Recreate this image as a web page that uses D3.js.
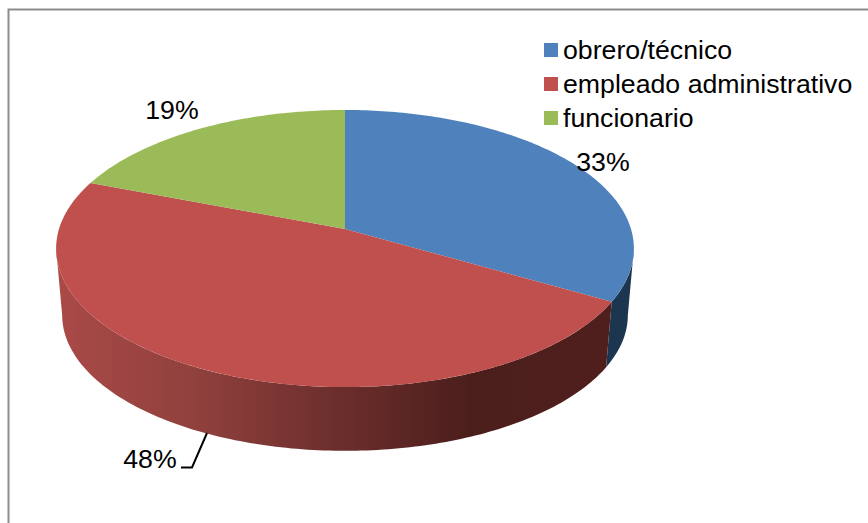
<!DOCTYPE html>
<html>
<head>
<meta charset="utf-8">
<script src="https://cdn.jsdelivr.net/npm/d3@7"></script>
<style>
  html, body { margin: 0; padding: 0; background: #fff; }
  svg { display: block; }
  text { font-family: "Liberation Sans", Arial, sans-serif; fill: #000; }
</style>
</head>
<body>
<div id="chart"></div>
<script>
var categories = ["obrero/técnico", "empleado administrativo", "funcionario"];
// estimated from slice boundaries, the labels show them rounded
var percents = [33.3, 47.5, 19.2];
var sliceColors = ["#4f81bd", "#c0504d", "#9bbb59"];
var width = 868, height = 523;

var svg = d3.select("#chart").append("svg")
    .attr("width", width)
    .attr("height", height);

///////// frame, only top and left are visible in the picture

svg.append("path")
    .attr("d", "M8.5," + height + "V9.5H" + width)
    .attr("fill", "none")
    .attr("stroke", "#8c8c8c")
    .attr("stroke-width", 2);

///////// perspective disc, angle in radians clockwise from the top

var tilt = 0.141;
var topDisc = {cx: 345, cy: 229, rx: 286, ry: 135.8};
var bottomDisc = {cx: 345, cy: 296, rx: 280, ry: 133};

function project(disc, a) {
    var w = 1 + tilt * Math.cos(a);
    return [disc.cx + disc.rx * Math.sin(a) / w, disc.cy - disc.ry * Math.cos(a) / w];
}

function arcPoints(disc, a0, a1) {
    var n = Math.ceil(Math.abs(a1 - a0) * 60);
    return d3.range(n + 1).map(function(i) {
        return project(disc, a0 + (a1 - a0) * i / n);
    });
}

var line = d3.line();
var pie = d3.pie().sort(null)(percents);
var color = d3.scaleOrdinal().domain(categories).range(sliceColors);

// side of the disc is only visible between the two tangent angles
var tangent = Math.acos(-tilt);
var wallFrom = tangent, wallTo = 2 * Math.PI - tangent;

var defs = svg.append("defs");
var redSide = defs.append("linearGradient")
    .attr("id", "redSide")
    .attr("gradientUnits", "userSpaceOnUse")
    .attr("x1", 56).attr("x2", 610).attr("y1", 0).attr("y2", 0);
redSide.selectAll("stop")
    .data([[0, "#aa4a47"], [0.26, "#8f403d"], [0.45, "#743230"], [0.75, "#4b1e1c"], [1, "#4f1f1d"]])
    .enter().append("stop")
    .attr("offset", function(d) { return d[0]; })
    .attr("stop-color", function(d) { return d[1]; });

var sideFill = ["#1d3650", "url(#redSide)", "#5f7a35"];

///////// walls

svg.append("g").selectAll("path")
    .data(pie.filter(function(d) { return d.startAngle < wallTo && d.endAngle > wallFrom; }))
    .enter().append("path")
    .attr("fill", function(d) { return sideFill[d.index]; })
    .attr("d", function(d) {
        var a0 = Math.max(d.startAngle, wallFrom), a1 = Math.min(d.endAngle, wallTo);
        return line(arcPoints(topDisc, a0, a1).concat(arcPoints(bottomDisc, a1, a0))) + "Z";
    });

///////// top of the pie

svg.append("g").selectAll("path")
    .data(pie)
    .enter().append("path")
    .attr("fill", function(d, i) { return color(categories[i]); })
    .attr("d", function(d) {
        return line([[topDisc.cx, topDisc.cy]].concat(arcPoints(topDisc, d.startAngle, d.endAngle))) + "Z";
    });

///////// data labels

var labelPos = [[603, 171], [150, 468], [172, 119]];

svg.append("g").selectAll("text")
    .data(percents)
    .enter().append("text")
    .attr("x", function(d, i) { return labelPos[i][0]; })
    .attr("y", function(d, i) { return labelPos[i][1]; })
    .attr("text-anchor", "middle")
    .style("font-size", "26.7px")
    .text(function(d) { return Math.round(d) + "%"; });

// leader line of the 48% label
svg.append("path")
    .attr("d", "M207,433L192,467.5H181")
    .attr("fill", "none")
    .attr("stroke", "#000")
    .attr("stroke-width", 2);

///////// legend

var legend = svg.selectAll(".legend")
    .data(categories)
    .enter().append("g")
    .attr("class", "legend")
    .attr("transform", function(d, i) { return "translate(544," + (43 + i * 34) + ")"; });

legend.append("rect")
    .attr("width", 14)
    .attr("height", 14)
    .style("fill", color);

legend.append("text")
    .attr("x", 19)
    .attr("y", 15.5)
    .style("font-size", "26.7px")
    .text(function(d) { return d; });
</script>
</body>
</html>
